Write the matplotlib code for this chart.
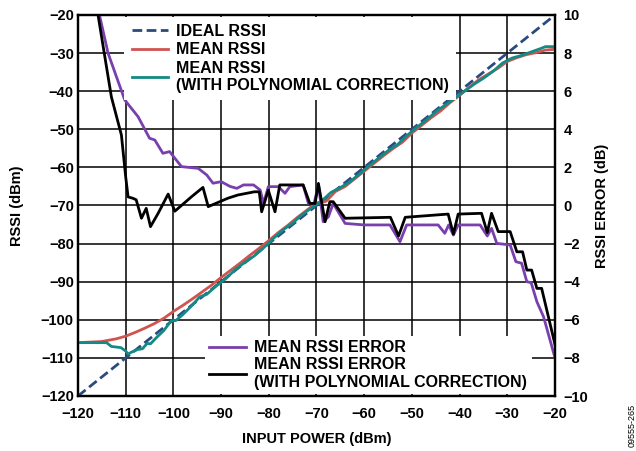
import matplotlib
matplotlib.use("Agg")
import matplotlib.pyplot as plt

plt.rcParams['font.family'] = ['Liberation Sans', 'DejaVu Sans']
plt.rcParams['font.weight'] = 'bold'

# ideal RSSI (straight line)
ideal_x = [-120, -20]
ideal_y = [-120, -20]

# mean RSSI
mean_x = [-120, -115, -112, -110, -108, -106, -104, -102, -100, -98, -96, -94, -92,
          -90, -88, -86, -84, -82, -80, -78, -76, -74, -72, -70, -68, -66, -64, -62,
          -60, -58, -56, -54, -52, -50, -48, -46, -44, -42, -40, -38, -36, -34, -32,
          -30, -28, -26, -24, -22, -20]
mean_y = [-106, -105.7, -105, -104.3, -103.3, -102.2, -101, -99.6, -97.8, -96.2, -94.5,
          -92.7, -90.9, -88.9, -87, -85.1, -83.1, -81.2, -79.2, -77.1, -75.2, -73.1,
          -71.2, -69.3, -68.9, -66.3, -65, -63, -61, -59, -57, -55.1, -53.4, -51,
          -49, -47, -45.2, -43, -41.1, -39, -37, -35.5, -34, -32.2, -31.2, -30.4,
          -29.9, -29.2, -29]

# mean RSSI with polynomial correction
corr_x = [-120, -114, -113, -111, -110, -109.5, -108.8, -107.5, -106.5, -105.5, -104.8,
          -103.5, -102, -100.5, -99.5, -98, -96, -94.5, -93, -91, -89, -87, -85, -83,
          -81, -79, -77, -75, -73, -71, -69, -67, -65, -63, -61, -59, -57, -55, -53,
          -51, -49, -47, -45, -43, -41, -39, -37, -35, -33, -31, -29, -27, -25, -23,
          -22, -20]
corr_y = [-106, -106, -107, -107.3, -108.2, -109, -108.5, -107.8, -107.6, -106.2, -106.3,
          -104.6, -102.8, -100.3, -100.2, -98.6, -96.1, -94, -93.3, -91.1, -89.2, -86.8,
          -84.9, -83.2, -81, -78.6, -76.4, -74.6, -72.4, -70.6, -68.9, -66.6, -65.3,
          -63.8, -61.7, -59.6, -57.6, -55.6, -54, -51.6, -49.5, -47.6, -45.4, -43.6,
          -41.8, -40, -38.2, -36.6, -34.8, -32.6, -31.3, -30.6, -29.7, -28.8, -28.3,
          -28.3]

# mean RSSI error (dB)
err_x = [-115.5, -113.7, -112, -110.2, -107.4, -105, -103.9, -102.2, -100.8, -98.3, -94.8,
         -93, -91.7, -90, -88.1, -86.7, -85.3, -83.2, -81.8, -81.1, -80.1, -78, -76.6,
         -75.6, -72.8, -71.7, -70.5, -69.6, -68.6, -67.5, -66.5, -64, -60, -54.6, -52.5,
         -51.1, -44.5, -43.1, -42.3, -41.3, -40.3, -35.7, -34.2, -33.3, -32.2, -29.4,
         -28.2, -27, -25.9, -25, -23.8, -22.4, -20]
err_y = [10, 8.0, 6.8, 5.54, 4.66, 3.53, 3.44, 2.74, 2.83, 2.04, 1.95, 1.6, 1.17, 1.25,
         1.0, 0.9, 1.08, 1.08, 0.81, 0.11, 0.99, 0.99, 0.64, 0.99, 1.08, 0.11, 0.11, 1.08,
         -0.85, -0.59, 0.11, -0.94, -1.02, -1.02, -1.9, -1.02, -1.02, -1.46, -1.02, -1.55,
         -1.02, -1.02, -1.6, -1.2, -1.99, -2.07, -2.95, -3.03, -4.0, -4.05, -5.05, -5.84,
         -8.0]

# mean RSSI error with polynomial correction (dB)
cerr_x = [-115.8, -113, -110.9, -110, -109.5, -108.5, -107.8, -106.7, -105.7, -104.8,
          -103.2, -101.1, -99.7, -96.2, -93.8, -92.7, -88.6, -86.5, -83, -82, -81.5,
          -80.1, -78.7, -77.7, -72.8, -71.4, -70.3, -69.6, -68.2, -67.2, -66.5, -64,
          -54.5, -52.8, -51.4, -42.4, -41.3, -40.3, -35.4, -34.2, -33.3, -31.9, -29.4,
          -28, -26.8, -25.9, -24.9, -23.8, -22.8, -20]
cerr_y = [10, 5.7, 3.7, 1.5, 0.45, 0.38, 0.3, -0.67, -0.15, -1.11, -0.41, 0.6, -0.3, 0.46,
          0.95, -0.06, 0.38, 0.55, 0.72, 0.72, -0.33, 0.8, -0.33, 1.08, 1.08, 0.11, 0.11,
          1.16, -0.85, 0.2, 0.2, -0.67, -0.62, -1.6, -0.62, -0.45, -1.5, -0.45, -0.41,
          -1.42, -0.41, -1.37, -1.37, -2.43, -2.43, -3.39, -3.39, -4.35, -4.35, -7.3]

c_ideal = "#2b4a80"
c_mean = "#cf5450"
c_corr = "#138a84"
c_err = "#7a3fae"
c_cerr = "black"

fig = plt.figure(figsize=(6.36, 4.51), dpi=100)
ax = fig.add_axes([78 / 636, 1 - 396 / 451, 477 / 636, 381 / 451])
ax2 = ax.twinx()

l1, = ax.plot(ideal_x, ideal_y, color=c_ideal, lw=2.0, ls=(0, (3.5, 1.6)), zorder=3)
l2, = ax.plot(mean_x, mean_y, color=c_mean, lw=2.0, zorder=3)
l3, = ax.plot(corr_x, corr_y, color=c_corr, lw=2.0, zorder=4)
l4, = ax2.plot(err_x, err_y, color=c_err, lw=2.0)
l5, = ax2.plot(cerr_x, cerr_y, color=c_cerr, lw=2.0)

ax.set_xlim(-120, -20)
ax.set_ylim(-120, -20)
ax2.set_ylim(-10, 10)
ax.set_xticks(range(-120, -19, 10))
ax.set_yticks(range(-120, -19, 10))
ax2.set_yticks(range(-10, 11, 2))
ax.grid(True, color="black", lw=1.1)

for a in (ax, ax2):
    a.tick_params(length=0, labelsize=10.5)
    for s in a.spines.values():
        s.set_linewidth(1.6)
ax.tick_params(axis='x', pad=8)
ax.tick_params(axis='y', pad=3)
ax2.tick_params(axis='y', pad=6)

ax.set_xlabel("INPUT POWER (dBm)", fontsize=10.5, fontweight='bold', labelpad=8)
ax.set_ylabel("RSSI (dBm)", fontsize=10.5, fontweight='bold', labelpad=12)
ax2.set_ylabel("RSSI ERROR (dB)", fontsize=10.5, fontweight='bold', labelpad=5)

prop = {'weight': 'bold', 'size': 11.5}
leg1 = ax2.legend([l1, l2, l3],
                  ["IDEAL RSSI", "MEAN RSSI", "MEAN RSSI\n(WITH POLYNOMIAL CORRECTION)"],
                  loc='upper left', bbox_to_anchor=(0.094, 1.0), prop=prop,
                  frameon=True, facecolor='white', edgecolor='none', framealpha=1,
                  fancybox=False, borderpad=0.45, handlelength=2.3, handletextpad=0.5,
                  labelspacing=0.22, borderaxespad=0.1)
ax2.add_artist(leg1)
ax2.legend([l4, l5],
           ["MEAN RSSI ERROR", "MEAN RSSI ERROR\n(WITH POLYNOMIAL CORRECTION)"],
           loc='lower left', bbox_to_anchor=(0.262, 0.0), prop=prop,
           frameon=True, facecolor='white', edgecolor='none', framealpha=1,
           fancybox=False, borderpad=0.3, handlelength=2.3, handletextpad=0.5,
           labelspacing=0.12, borderaxespad=0.1)

fig.text(632 / 636, 1 - 425 / 451, "09555-265", rotation=90, fontsize=6.5,
         fontweight='normal', ha='center', va='center')

fig.savefig("out.png", dpi=100)
